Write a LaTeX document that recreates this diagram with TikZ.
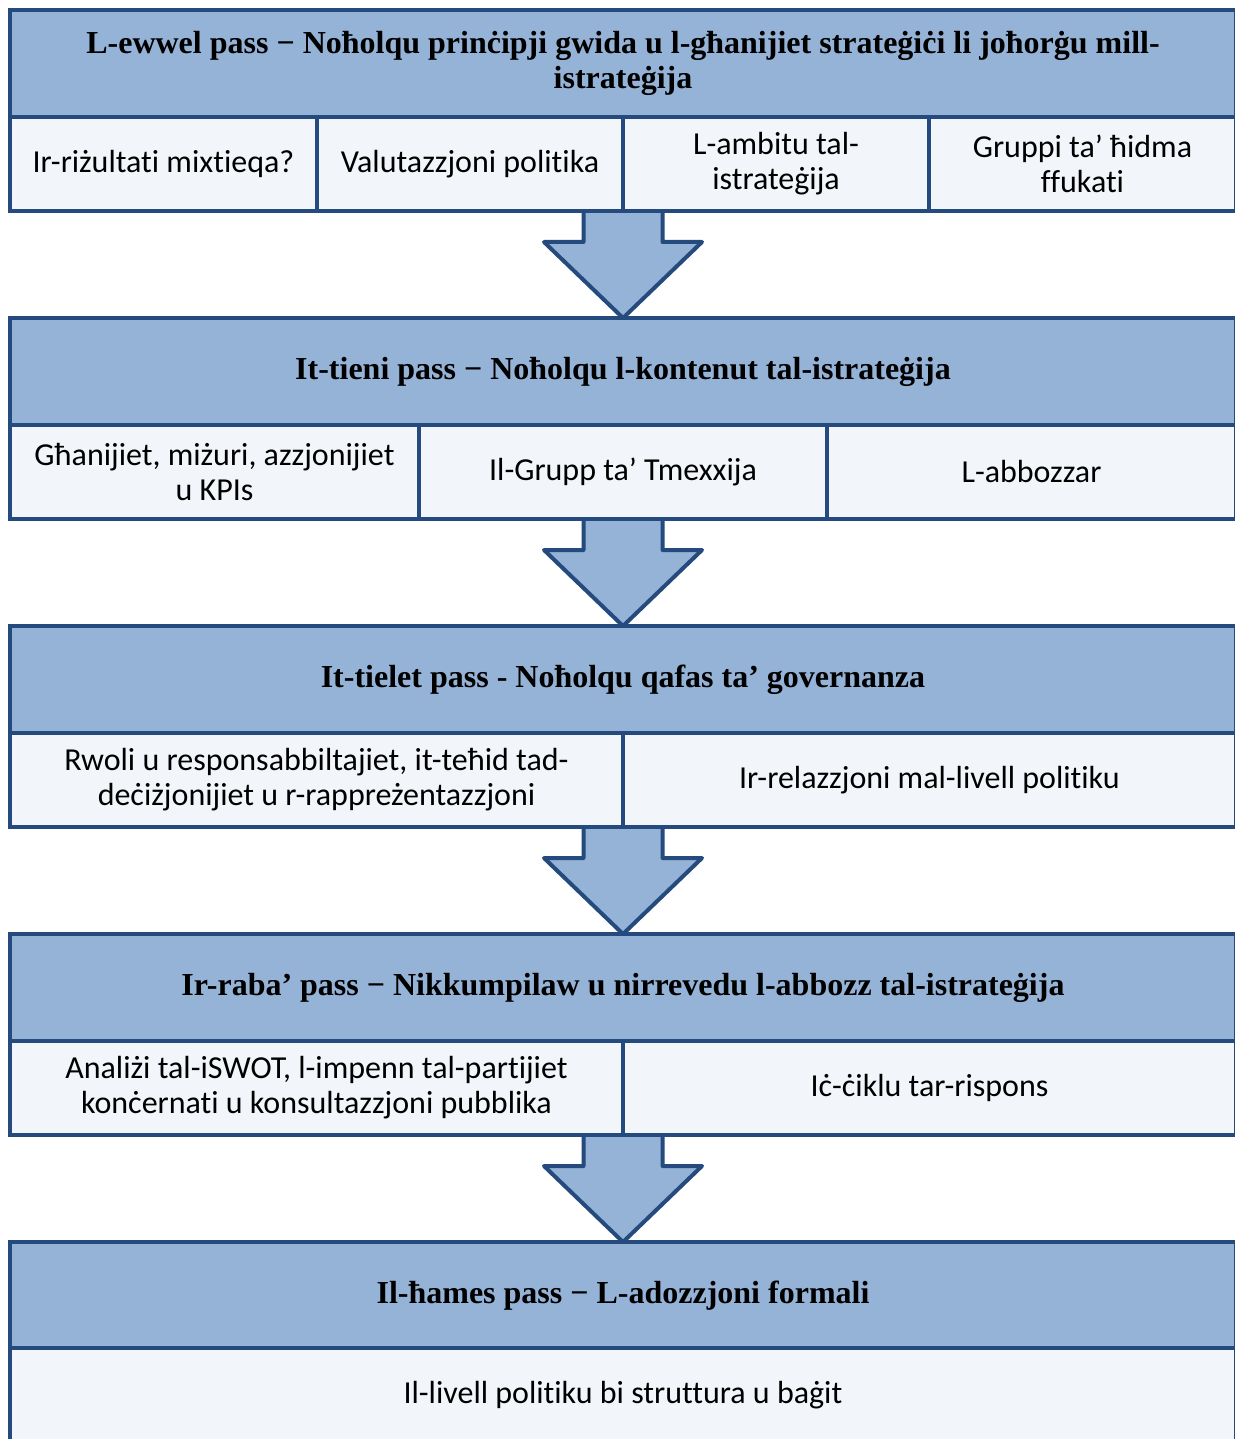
\documentclass[tikz,border=0pt]{standalone}
\usepackage{fontspec}
\setmainfont{Liberation Serif}
\newfontfamily\cellfont{Carlito}[Ligatures=NoCommon]
\usetikzlibrary{calc,backgrounds}

\definecolor{frameblue}{RGB}{36,74,126}
\definecolor{headblue}{RGB}{149,179,215}
\definecolor{cellwhite}{RGB}{242,246,250}

% block arrow from the bottom of a row (#1) to the top of the next header (#2)
\newcommand\flowstep[2]{%
  \path (#2.north |- #1.south) coordinate (#2-in);
  \draw[flowarrow] ($(#2-in)+(-39.5,0)$) -- ++(0,31) -- ++(-39.5,0) -- (#2.north)
    -- ($(#2-in)+(79,31)$) -- ++(-39.5,0) -- ++(0,-31);
}

\begin{document}
\begin{tikzpicture}[x=1pt,y=-1pt,
  box/.style={draw=frameblue, line width=4pt, inner sep=0pt, outer sep=0pt, align=center},
  headbox/.style={box, fill=headblue, minimum width=1226pt, minimum height=107pt,
    font=\fontsize{32}{35}\selectfont\bfseries},
  cellbox/.style={box, fill=cellwhite, minimum height=94pt,
    font=\cellfont\fontsize{32}{35}\selectfont},
  flowarrow/.style={draw=frameblue, fill=headblue, line width=4pt, line join=round}]

\useasboundingbox (0,0) rectangle (1234,1439);

% stage 1
\node[headbox] (h1) at (623,63.5)
  {L-ewwel pass − Noħolqu prinċipji gwida u l-għanijiet strateġiċi li joħorġu mill-\\istrateġija};
\node[cellbox, minimum width=307pt] (c11) at (163.5,164) {Ir-riżultati mixtieqa?};
\node[cellbox, minimum width=306pt] (c12) at (470,164) {Valutazzjoni politika};
\node[cellbox, minimum width=306pt] (c13) at (776,164) {L-ambitu tal-\\istrateġija};
\node[cellbox, minimum width=307pt] (c14) at (1082.5,164) {Gruppi ta’ ħidma\\ffukati};

% stage 2
\node[headbox] (h2) at (623,371.5)
  {It-tieni pass − Noħolqu l-kontenut tal-istrateġija};
\node[cellbox, minimum width=409pt] (c21) at (214.5,472) {Għanijiet, miżuri, azzjonijiet\\u KPIs};
\node[cellbox, minimum width=408pt] (c22) at (623,472) {Il-Grupp ta’ Tmexxija};
\node[cellbox, minimum width=409pt] (c23) at (1031.5,472) {L-abbozzar};

% stage 3
\node[headbox] (h3) at (623,679.5)
  {It-tielet pass - Noħolqu qafas ta’ governanza};
\node[cellbox, minimum width=613pt] (c31) at (316.5,780)
  {Rwoli u responsabbiltajiet, it-teħid tad-\\deċiżjonijiet u r-rappreżentazzjoni};
\node[cellbox, minimum width=613pt] (c32) at (929.5,780) {Ir-relazzjoni mal-livell politiku};

% stage 4
\node[headbox] (h4) at (623,987.5)
  {Ir-raba’ pass − Nikkumpilaw u nirrevedu l-abbozz tal-istrateġija};
\node[cellbox, minimum width=613pt] (c41) at (316.5,1088)
  {Analiżi tal-iSWOT, l-impenn tal-partijiet\\konċernati u konsultazzjoni pubblika};
\node[cellbox, minimum width=613pt] (c42) at (929.5,1088) {Iċ-ċiklu tar-rispons};

% stage 5
\node[headbox] (h5) at (623,1295.5)
  {Il-ħames pass − L-adozzjoni formali};
\node[cellbox, minimum width=1226pt] (c51) at (623,1395) {Il-livell politiku bi struttura u baġit};

% arrows sit behind the box borders
\begin{scope}[on background layer]
  \fill[white] (0,0) rectangle (1234,1439);
  \flowstep{c11}{h2}
  \flowstep{c21}{h3}
  \flowstep{c31}{h4}
  \flowstep{c41}{h5}
\end{scope}
\end{tikzpicture}
\end{document}
